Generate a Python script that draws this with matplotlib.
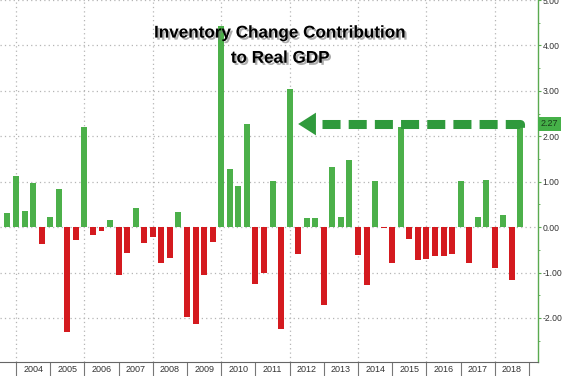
import numpy as np
import matplotlib
matplotlib.use('Agg')
import matplotlib.pyplot as plt
import matplotlib.patheffects as pe
from matplotlib.patches import Polygon
from matplotlib.ticker import MultipleLocator, FixedLocator, NullFormatter

plt.rcParams['font.family'] = ['Liberation Sans', 'DejaVu Sans']

# Quarterly inventory contribution to real GDP, 2003Q3 .. 2018Q3
quarters = ['2003Q3', '2003Q4']
for yr in range(2004, 2018):
    quarters += ['%dQ%d' % (yr, q) for q in range(1, 5)]
quarters += ['2018Q1', '2018Q2', '2018Q3']

values = [0.31, 1.13,
          0.35, 0.96, -0.38, 0.23,
          0.84, -2.30, -0.29, 2.20,
          -0.18, -0.08, 0.15, -1.05,
          -0.56, 0.41, -0.36, -0.21,
          -0.78, -0.69, 0.34, -1.99,
          -2.13, -1.05, -0.32, 4.43,
          1.28, 0.91, 2.28, -1.25,
          -1.02, 1.02, -2.25, 3.04,
          -0.59, 0.20, 0.20, -1.71,
          1.32, 0.23, 1.47, -0.62,
          -1.27, 1.01, -0.02, -0.78,
          2.20, -0.26, -0.72, -0.71,
          -0.63, -0.63, -0.59, 1.02,
          -0.80, 0.23, 1.03, -0.91,
          0.26, -1.16, 2.27]

years = list(range(2004, 2019))
year_labels = [str(y) for y in years]
last_value = values[-1]

# bars sit on the quarter-end date
x = np.array([int(q[:4]) + int(q[-1]) / 4.0 for q in quarters])
v = np.array(values)

green = '#4cb04a'
red = '#d41a1f'
dark_green = '#2f9a3c'

fig = plt.figure(figsize=(5.64, 3.76), dpi=100)
ax = fig.add_axes([0, 14 / 376, 537.7 / 564, 362 / 376])

colors = [green if val >= 0 else red for val in v]
ax.bar(x, v, width=0.175, color=colors, zorder=3)

ax.set_xlim(2003.532, 2019.254)
ax.set_ylim(-2.97, 5.0)

# grid
for yv in range(-2, 6):
    ax.axhline(yv, color='#b5b5b5', linestyle=(0, (1, 2.5)), linewidth=0.9, zorder=1)
for yr in range(2004, 2019, 2):
    ax.axvline(yr, color='#b5b5b5', linestyle=(0, (1, 2.5)), linewidth=0.9, zorder=1)

# spines
for s in ['left', 'top']:
    ax.spines[s].set_visible(False)
ax.spines['right'].set_color('#5aaa50')
ax.spines['right'].set_linewidth(1.0)
ax.spines['bottom'].set_color('#666666')
ax.spines['bottom'].set_linewidth(0.8)

# right y axis
ax.yaxis.tick_right()
ax.yaxis.set_major_locator(MultipleLocator(1))
ax.yaxis.set_minor_locator(MultipleLocator(0.5))
ax.yaxis.set_major_formatter(matplotlib.ticker.FormatStrFormatter('%.2f'))
ax.tick_params(axis='y', which='major', colors='#5aaa50', length=2.5, width=0.8,
               labelsize=6.2, labelcolor='#333333', pad=1)
ax.tick_params(axis='y', which='minor', colors='#5aaa50', length=1.5, width=0.6)

# x axis: long year separators, labels centred in each year
ax.xaxis.set_major_locator(FixedLocator(years + [2019]))
ax.xaxis.set_major_formatter(NullFormatter())
ax.xaxis.set_minor_locator(FixedLocator([y + 0.5 for y in years]))
ax.xaxis.set_minor_formatter(matplotlib.ticker.FixedFormatter(year_labels))
ax.tick_params(axis='x', which='major', length=14, width=0.8, color='#777777')
ax.tick_params(axis='x', which='minor', length=0, labelsize=6.5,
               labelcolor='#333333', pad=2.5)

# dashed arrow from latest bar back to 2012
x_last = x[-1]
tip_x, base_x = 2012.25, 2012.77
ax.plot([base_x + 0.18, x_last, x_last], [last_value, last_value, last_value - 0.25],
        color=dark_green, linewidth=6.5, linestyle=(0, (2.0, 0.9)),
        solid_joinstyle='round', dash_joinstyle='round', zorder=4)
ax.add_patch(Polygon([(tip_x, last_value), (base_x, last_value + 0.25),
                      (base_x, last_value - 0.25)], closed=True,
                     facecolor=dark_green, edgecolor='none', zorder=4))

# value tag on the axis
ax.text(1.006, last_value, '%.2f' % last_value, transform=ax.get_yaxis_transform(),
        ha='left', va='center', fontsize=6.5, color='#1a3d1a', clip_on=False,
        bbox=dict(boxstyle='square,pad=0.3', facecolor='#45b048', edgecolor='none'))

# title
shadow = [pe.withSimplePatchShadow(offset=(1.5, -1.5), shadow_rgbFace='#777777', alpha=0.6)]
fig.text(0.497, 0.912, 'Inventory Change Contribution', ha='center', va='center',
         fontsize=12.3, fontweight='bold', color='black', path_effects=shadow)
fig.text(0.497, 0.845, 'to Real GDP', ha='center', va='center',
         fontsize=12.3, fontweight='bold', color='black', path_effects=shadow)

fig.savefig('out.png', dpi=100)
